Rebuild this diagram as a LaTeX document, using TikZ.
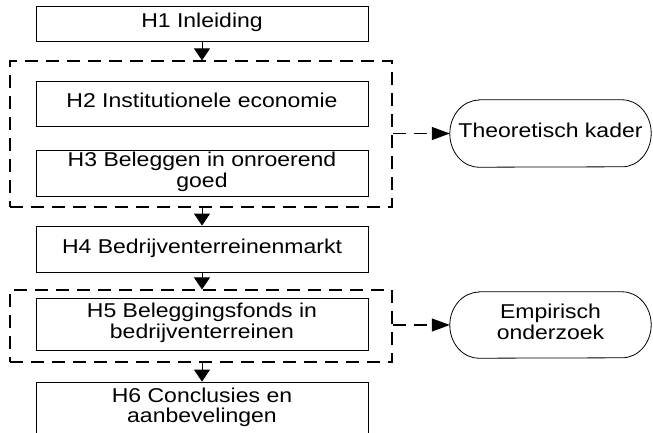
\documentclass[tikz,border=0pt]{standalone}
\usepackage{fontspec}
\setmainfont{Liberation Sans}
\usepackage{graphicx}
\usetikzlibrary{arrows.meta}
\newcommand{\TX}[1]{\scalebox{1.15}[1]{\begin{tabular}{@{}c@{}}#1\end{tabular}}}
\begin{document}
\begin{tikzpicture}[x=1pt,y=1pt,
  chbox/.style={draw, line width=0.8pt, minimum width=332pt, inner sep=0pt,
    font=\fontsize{20}{20.5}\selectfont},
  grpbox/.style={draw, line width=1.1pt, dash pattern=on 13pt off 8pt, minimum width=382pt, inner sep=0pt},
  varrow/.style={line width=0.8pt, -{Triangle[width=16pt,length=12pt]}},
  harrow/.style={line width=1.1pt, dash pattern=on 13pt off 8pt, -{Triangle[width=13pt,length=18pt]}},
  goal/.style={minimum width=201pt, inner sep=0pt, font=\fontsize{20}{20.5}\selectfont},
  goalline/.style={line width=0.8pt}
]
\useasboundingbox (0,-433) rectangle (653,0);
\clip (0,-433) rectangle (653,0);
% group boxes
\node[grpbox, minimum height=146pt] (d1) at (201,-134) {};
\node[grpbox, minimum height=72pt] (d2) at (201,-326) {};
% chapter boxes
\node[chbox, minimum height=35pt] (h1) at (202,-23.5) {\TX{H1 Inleiding}};
\node[chbox, minimum height=45pt] (h2) at (202,-103.5) {\TX{H2 Institutionele economie}};
\node[chbox, minimum height=46pt] (h3) at (202,-173) {\TX{H3 Beleggen in onroerend\\goed}};
\node[chbox, minimum height=46pt] (h4) at (202,-249) {\TX{H4 Bedrijventerreinenmarkt}};
\node[chbox, minimum height=52pt] (h5) at (202,-324) {\TX{H5 Beleggingsfonds in\\bedrijventerreinen}};
\node[chbox, minimum height=53pt] (h6) at (202,-408.5) {\TX{H6 Conclusies en\\aanbevelingen}};
% goal shapes
\node[goal, minimum height=67pt] (tk) at (550.5,-133.5) {\TX{Theoretisch kader}};
\node[goal, minimum height=66pt] (eo) at (550.5,-325) {\TX{Empirisch\\onderzoek}};
\draw[goalline] ([xshift=29pt]tk.north west) -- ([xshift=-29pt]tk.north east)
  arc[start angle=90,end angle=-90,x radius=29pt,y radius=33.5pt]
  -- ([xshift=29pt]tk.south west)
  arc[start angle=270,end angle=90,x radius=29pt,y radius=33.5pt] -- cycle;
\draw[goalline] ([xshift=29pt]eo.north west) -- ([xshift=-29pt]eo.north east)
  arc[start angle=90,end angle=-90,x radius=29pt,y radius=33pt]
  -- ([xshift=29pt]eo.south west)
  arc[start angle=270,end angle=90,x radius=29pt,y radius=33pt] -- cycle;
% vertical arrows
\draw[varrow] (h1.south) -- (h1.south |- d1.north);
\draw[varrow] (h4.north |- d1.south) -- (h4.north);
\draw[varrow] (h4.south) -- (h4.south |- d2.north);
\draw[varrow] (h6.north |- d2.south) -- (h6.north);
% dashed arrows
\draw[harrow] (d1.east |- tk.west) -- (tk.west);
\draw[harrow] (d2.east |- eo.west) -- (eo.west);
\end{tikzpicture}
\end{document}
